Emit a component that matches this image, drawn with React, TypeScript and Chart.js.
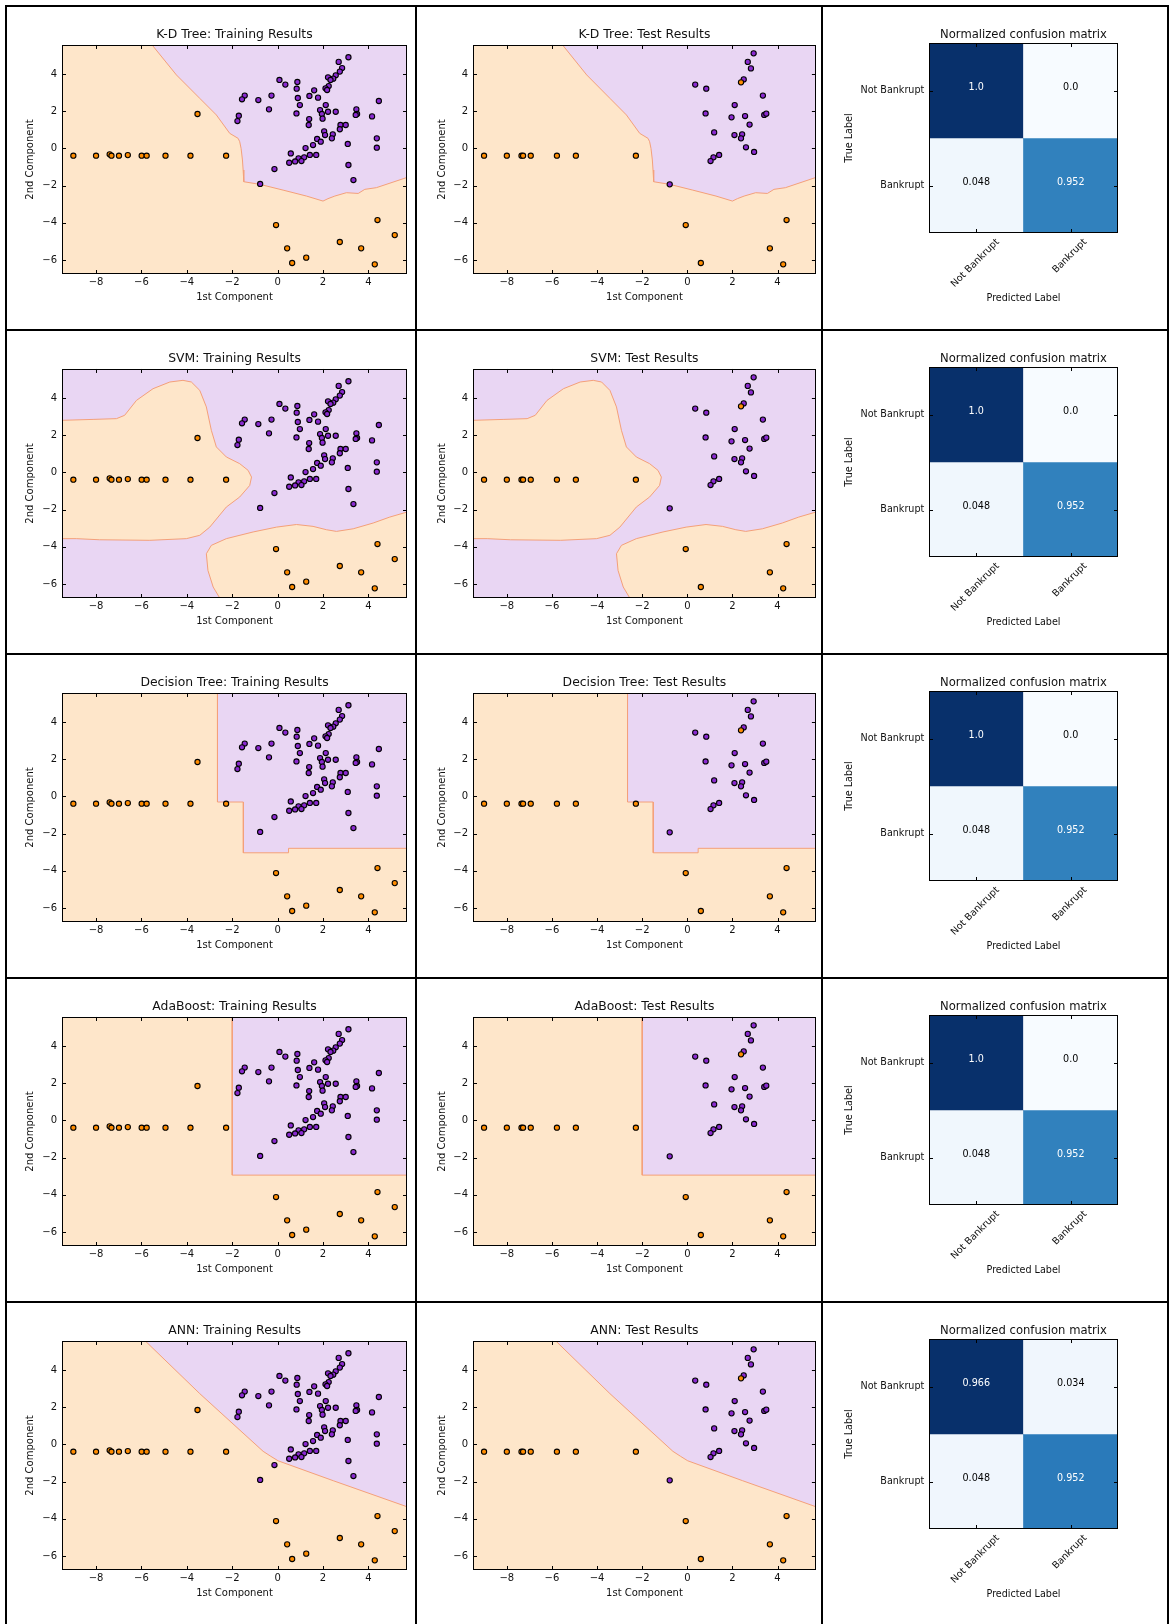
import React, { useEffect, useRef } from "react";
import { Chart, registerables } from "chart.js";

Chart.register(...registerables);

const FONT = "'DejaVu Sans', 'Liberation Sans', Arial, sans-serif";
Chart.defaults.font.family = FONT;
Chart.defaults.color = "#111";

// ---------------- axis ranges & ticks ----------------
const X_MIN = -9.5;
const X_MAX = 5.7;
const Y_MIN = -6.75;
const Y_MAX = 5.56;
const X_TICKS = [-8, -6, -4, -2, 0, 2, 4];
const Y_TICKS = [-6, -4, -2, 0, 2, 4];

type Pt = [number, number];

// ---------------- training points ----------------
const trainBankrupt: Pt[] = [
  [-9.0, -0.39], [-8.0, -0.39], [-7.4, -0.32], [-7.32, -0.39], [-6.99, -0.39],
  [-6.6, -0.36], [-5.99, -0.39], [-5.77, -0.39], [-4.94, -0.39], [-3.84, -0.39],
  [-3.53, 1.85], [-2.27, -0.39], [-0.07, -4.12], [0.42, -5.37], [0.64, -6.16],
  [1.26, -5.87], [2.74, -5.03], [3.68, -5.37], [4.4, -3.85], [4.28, -6.23], [5.16, -4.66],
];

const trainNotBankrupt: Pt[] = [
  [3.12, 4.9], [2.69, 4.65], [2.84, 4.32], [2.74, 4.13], [2.56, 3.93], [2.45, 3.75],
  [2.22, 3.82], [2.33, 3.68], [2.25, 3.35], [2.11, 3.23], [2.18, 3.14], [0.08, 3.68],
  [0.34, 3.43], [0.87, 3.57], [0.84, 3.21], [1.61, 3.12], [1.4, 2.82], [0.89, 2.71],
  [1.78, 2.73], [-0.27, 2.84], [-0.85, 2.6], [-1.45, 2.84], [-1.57, 2.64], [-0.38, 2.1],
  [0.98, 2.33], [2.12, 2.33], [1.87, 2.06], [2.22, 1.97], [2.56, 1.97], [1.95, 1.85],
  [0.83, 1.88], [1.98, 1.6], [1.39, 1.58], [1.37, 1.26], [-1.71, 1.76], [-1.77, 1.47],
  [3.47, 2.1], [3.5, 1.85], [3.44, 1.8], [4.46, 2.55], [4.16, 1.72], [2.77, 1.26],
  [3.0, 1.26], [2.74, 1.03], [2.05, 0.92], [2.43, 0.76], [2.09, 0.72], [1.74, 0.51],
  [1.9, 0.36], [2.39, 0.54], [3.09, 0.24], [1.56, 0.18], [1.23, 0.02], [4.37, 0.54],
  [4.37, 0.04], [0.58, -0.27], [1.42, -0.35], [1.7, -0.35], [1.17, -0.48], [0.92, -0.53],
  [0.77, -0.7], [0.51, -0.77], [1.05, -0.68], [3.12, -0.89], [-0.14, -1.11], [3.34, -1.7],
  [-0.77, -1.91],
];

// ---------------- test points ----------------
const testBankrupt: Pt[] = [
  [-9.01, -0.39], [-8.0, -0.39], [-7.35, -0.39], [-7.28, -0.39], [-6.94, -0.39],
  [-5.78, -0.39], [-4.94, -0.39], [-2.28, -0.39], [-0.07, -4.12], [0.6, -6.16],
  [3.66, -5.37], [4.4, -3.85], [4.25, -6.23], [2.38, 3.55],
];

const testNotBankrupt: Pt[] = [
  [2.94, 5.11], [2.68, 4.65], [2.82, 4.3], [2.5, 3.71], [0.35, 3.43], [0.84, 3.21],
  [3.35, 2.84], [2.1, 2.33], [0.81, 1.88], [1.96, 1.67], [2.56, 1.74], [3.41, 1.8],
  [3.5, 1.87], [2.76, 1.28], [1.19, 0.86], [2.09, 0.72], [2.43, 0.76], [2.38, 0.54],
  [2.6, 0.06], [2.96, -0.19], [1.41, -0.35], [1.16, -0.48], [1.03, -0.68], [-0.78, -1.93],
];

// ---------------- decision boundaries ----------------
const kdBoundary: Pt[] = [
  [-5.53, Y_MAX], [-4.46, 3.95], [-3.43, 2.69], [-2.7, 1.8], [-2.11, 0.81], [-1.74, 0.54],
  [-1.67, 0.36], [-1.61, 0.0], [-1.55, -0.62], [-1.52, -1.16], [-1.49, -1.79], [-0.79, -1.93],
  [0.24, -2.24], [1.27, -2.56], [2.0, -2.83], [2.22, -2.7], [2.52, -2.56], [3.03, -2.38],
  [3.55, -2.42], [3.84, -2.2], [4.35, -2.11], [X_MAX, -1.56],
];

const svmBoundaryLeft: Pt[] = [
  [X_MIN, 2.8], [-8.13, 2.85], [-7.1, 2.89], [-6.74, 3.07], [-6.22, 3.87], [-5.49, 4.5],
  [-4.75, 4.86], [-4.17, 4.95], [-3.8, 4.86], [-3.43, 4.41], [-3.14, 3.52], [-2.92, 2.26],
  [-2.7, 1.37], [-2.26, 0.83], [-1.67, 0.47], [-1.3, 0.11], [-1.15, -0.25], [-1.23, -0.7],
  [-1.67, -1.32], [-2.26, -1.86], [-2.99, -2.94], [-3.43, -3.38], [-4.02, -3.56],
  [-5.63, -3.65], [-7.84, -3.62], [-8.87, -3.56], [X_MIN, -3.56],
];

const svmBoundaryLower: Pt[] = [
  [-2.55, Y_MIN], [-2.84, -6.16], [-3.07, -5.27], [-3.14, -4.37], [-2.92, -3.92],
  [-2.26, -3.56], [-1.08, -3.2], [-0.05, -2.94], [0.83, -2.8], [1.56, -2.9], [2.15, -3.08],
  [2.59, -3.17], [3.33, -3.03], [4.21, -2.72], [4.94, -2.4], [X_MAX, -2.13],
];

const dtBoundary: Pt[] = [
  [-2.65, Y_MAX], [-2.65, -0.3], [-1.51, -0.3], [-1.51, -3.03], [0.48, -3.03], [0.48, -2.79],
  [X_MAX, -2.79],
];

const adaBoundary: Pt[] = [[-2.0, Y_MAX], [-2.0, -2.94], [X_MAX, -2.94]];

const annBoundary: Pt[] = [
  [-5.83, Y_MAX], [-3.43, 2.73], [-0.64, -0.37], [-0.3, -0.64], [0.02, -0.88], [2.45, -1.95],
  [X_MAX, -3.35],
];

// ---------------- confusion matrices ----------------
const CM_CLASSES = ["Not Bankrupt", "Bankrupt"];
const kdCmValues = [[1.0, 0.0], [0.048, 0.952]];
const kdCmCounts = [[29, 0], [1, 20]];
const svmCmValues = [[1.0, 0.0], [0.048, 0.952]];
const svmCmCounts = [[29, 0], [1, 20]];
const dtCmValues = [[1.0, 0.0], [0.048, 0.952]];
const dtCmCounts = [[29, 0], [1, 20]];
const adaCmValues = [[1.0, 0.0], [0.048, 0.952]];
const adaCmCounts = [[29, 0], [1, 20]];
const annCmValues = [[0.966, 0.034], [0.048, 0.952]];
const annCmCounts = [[28, 1], [1, 20]];

// ---------------- styles ----------------
const REGION_FILL: Record<string, string> = { bankrupt: "#fee6ca", notBankrupt: "#e9d6f3" };
const POINT_FILL: Record<string, string> = { bankrupt: "#ff8c00", notBankrupt: "#8a2ad0" };
const EDGE = "#f4a07a";
const BLUES = ["#f7fbff", "#deebf7", "#c6dbef", "#9ecae1", "#6baed6", "#4292c6", "#2171b5", "#08519c", "#08306b"];

type Region = { cls: string; curve: Pt[]; corners: Pt[] };
type Row = { name: string; base: string; regions: Region[]; cmValues: number[][]; cmCounts: number[][] };

const ROWS: Row[] = [
  { name: "K-D Tree", base: "bankrupt", regions: [{ cls: "notBankrupt", curve: kdBoundary, corners: [[X_MAX, Y_MAX]] }], cmValues: kdCmValues, cmCounts: kdCmCounts },
  {
    name: "SVM", base: "notBankrupt",
    regions: [
      { cls: "bankrupt", curve: svmBoundaryLeft, corners: [] },
      { cls: "bankrupt", curve: svmBoundaryLower, corners: [[X_MAX, Y_MIN]] },
    ],
    cmValues: svmCmValues, cmCounts: svmCmCounts,
  },
  { name: "Decision Tree", base: "bankrupt", regions: [{ cls: "notBankrupt", curve: dtBoundary, corners: [[X_MAX, Y_MAX]] }], cmValues: dtCmValues, cmCounts: dtCmCounts },
  { name: "AdaBoost", base: "bankrupt", regions: [{ cls: "notBankrupt", curve: adaBoundary, corners: [[X_MAX, Y_MAX]] }], cmValues: adaCmValues, cmCounts: adaCmCounts },
  { name: "ANN", base: "bankrupt", regions: [{ cls: "notBankrupt", curve: annBoundary, corners: [[X_MAX, Y_MAX]] }], cmValues: annCmValues, cmCounts: annCmCounts },
];

const toXY = (arr: Pt[]) => arr.map(([x, y]) => ({ x, y }));
const fmtTick = (v: number) => (v < 0 ? "\u2212" + Math.abs(v) : String(v));
const fmtCell = (v: number) => (Number.isInteger(v) ? v.toFixed(1) : String(v));

function hexToRgb(h: string) {
  return [1, 3, 5].map((i) => parseInt(h.slice(i, i + 2), 16));
}
function blues(t: number) {
  const p = Math.max(0, Math.min(1, t)) * (BLUES.length - 1);
  const i = Math.min(Math.floor(p), BLUES.length - 2);
  const f = p - i;
  const a = hexToRgb(BLUES[i]);
  const b = hexToRgb(BLUES[i + 1]);
  const c = a.map((v, k) => Math.round(v + (b[k] - v) * f));
  return `rgb(${c[0]},${c[1]},${c[2]})`;
}

// frame + inward ticks (matplotlib classic look)
const framePlugin = {
  id: "mplFrame",
  afterDatasetsDraw(chart: any) {
    const { ctx, chartArea: a, scales } = chart;
    const tl = 4;
    ctx.save();
    ctx.strokeStyle = "#000";
    ctx.lineWidth = 1;
    ctx.beginPath();
    const xs = scales.x;
    xs.ticks.forEach((_: any, i: number) => {
      const px = Math.round(xs.getPixelForTick(i)) + 0.5;
      ctx.moveTo(px, a.bottom);
      ctx.lineTo(px, a.bottom - tl);
      ctx.moveTo(px, a.top);
      ctx.lineTo(px, a.top + tl);
    });
    const ys = scales.y;
    ys.ticks.forEach((_: any, i: number) => {
      const py = Math.round(ys.getPixelForTick(i)) + 0.5;
      ctx.moveTo(a.left, py);
      ctx.lineTo(a.left + tl, py);
      ctx.moveTo(a.right, py);
      ctx.lineTo(a.right - tl, py);
    });
    ctx.stroke();
    ctx.strokeRect(Math.round(a.left) + 0.5, Math.round(a.top) + 0.5, Math.round(a.right - a.left) - 1, Math.round(a.bottom - a.top) - 1);
    ctx.restore();
  },
};

type ScatterProps = {
  title: string;
  bankrupt: Pt[];
  notBankrupt: Pt[];
  row: Row;
  width: number;
  height: number;
  yAxisWidth: number;
  rightPad: number;
  yTitlePad: number;
};

function ScatterPanel(p: ScatterProps) {
  const ref = useRef<HTMLCanvasElement>(null);
  useEffect(() => {
    const datasets: any[] = [];
    datasets.push({
      data: toXY(p.bankrupt), showLine: false, fill: false, pointRadius: 2.6, pointBorderWidth: 1.1,
      pointBackgroundColor: POINT_FILL.bankrupt, pointBorderColor: "#000", order: 0,
    });
    datasets.push({
      data: toXY(p.notBankrupt), showLine: false, fill: false, pointRadius: 2.6, pointBorderWidth: 1.1,
      pointBackgroundColor: POINT_FILL.notBankrupt, pointBorderColor: "#000", order: 1,
    });
    p.row.regions.forEach((r) => {
      datasets.push({
        data: toXY(r.curve), showLine: true, fill: false, borderColor: EDGE, borderWidth: 1,
        pointRadius: 0, tension: 0, order: 5,
      });
      datasets.push({
        data: toXY([...r.curve, ...r.corners]), showLine: true, fill: "shape", borderWidth: 0,
        borderColor: "rgba(0,0,0,0)", backgroundColor: REGION_FILL[r.cls], pointRadius: 0, tension: 0, order: 8,
      });
    });
    const rect: Pt[] = [[X_MIN, Y_MIN], [X_MAX, Y_MIN], [X_MAX, Y_MAX], [X_MIN, Y_MAX]];
    datasets.push({
      data: toXY(rect), showLine: true, fill: "shape", borderWidth: 0, borderColor: "rgba(0,0,0,0)",
      backgroundColor: REGION_FILL[p.row.base], pointRadius: 0, tension: 0, order: 10,
    });

    const axisFont = { family: FONT, size: 10 };
    const chart = new Chart(ref.current as HTMLCanvasElement, {
      type: "line",
      data: { datasets },
      options: {
        animation: false,
        responsive: false,
        devicePixelRatio: 1,
        events: [],
        layout: { padding: { left: 0, right: p.rightPad, top: 0, bottom: 0 } },
        plugins: {
          legend: { display: false },
          tooltip: { enabled: false },
          title: {
            display: true, text: p.title, fullSize: false, color: "#111",
            font: { family: FONT, size: 12.4, weight: "normal" as any },
            padding: { top: 20.8, bottom: 2.3 },
          },
        },
        scales: {
          x: {
            type: "linear", min: X_MIN, max: X_MAX,
            afterBuildTicks: (s: any) => { s.ticks = X_TICKS.map((v) => ({ value: v })); },
            afterFit: (s: any) => { s.height = 55; },
            grid: { display: false, drawTicks: false },
            border: { display: false },
            ticks: { font: axisFont, color: "#111", padding: 2.3, autoSkip: false, maxRotation: 0, callback: (v: any) => fmtTick(Number(v)) },
            title: { display: true, text: "1st Component", font: axisFont, color: "#111", padding: { top: 0, bottom: 25.3 } },
          },
          y: {
            type: "linear", min: Y_MIN, max: Y_MAX,
            afterBuildTicks: (s: any) => { s.ticks = Y_TICKS.map((v) => ({ value: v })); },
            afterFit: (s: any) => { s.width = p.yAxisWidth; },
            grid: { display: false, drawTicks: false },
            border: { display: false },
            ticks: { font: axisFont, color: "#111", padding: 5, autoSkip: false, callback: (v: any) => fmtTick(Number(v)) },
            title: { display: true, text: "2nd Component", font: axisFont, color: "#111", padding: { top: p.yTitlePad, bottom: 0 } },
          },
        },
      } as any,
      plugins: [framePlugin],
    });
    return () => chart.destroy();
  }, []);
  return <canvas ref={ref} width={p.width} height={p.height} style={{ display: "block", width: p.width, height: p.height }} />;
}

function ConfusionPanel({ values, counts, width, height }: { values: number[][]; counts: number[][]; width: number; height: number }) {
  const ref = useRef<HTMLCanvasElement>(null);
  useEffect(() => {
    const n = CM_CLASSES.length;
    const maxCount = Math.max(...counts.flat());
    const labelFont = { family: FONT, size: 9.6 };
    const cellPlugin = {
      id: "cmCells",
      afterDatasetsDraw(chart: any) {
        const { ctx } = chart;
        ctx.save();
        ctx.font = `9.6px ${FONT}`;
        ctx.textAlign = "center";
        ctx.textBaseline = "middle";
        chart.data.datasets.forEach((_: any, r: number) => {
          const meta = chart.getDatasetMeta(r);
          meta.data.forEach((bar: any, c: number) => {
            const { x, y, base } = bar.getProps(["x", "y", "base"], true);
            ctx.fillStyle = counts[r][c] > maxCount / 2 ? "#ffffff" : "#000000";
            ctx.fillText(fmtCell(values[r][c]), x, (y + base) / 2 - 3);
          });
        });
        ctx.restore();
      },
      afterDraw(chart: any) {
        const { ctx, chartArea: a, scales } = chart;
        ctx.save();
        ctx.font = `9.6px ${FONT}`;
        ctx.fillStyle = "#111";
        ctx.textAlign = "right";
        ctx.textBaseline = "middle";
        CM_CLASSES.forEach((lab, i) => {
          const tx = scales.x.getPixelForTick(i);
          const w = ctx.measureText(lab).width;
          ctx.save();
          ctx.translate(tx + w * 0.3536 - 1, a.bottom + 7.5);
          ctx.rotate(-Math.PI / 4);
          ctx.fillText(lab, 0, 0);
          ctx.restore();
        });
        ctx.restore();
      },
    };
    const chart = new Chart(ref.current as HTMLCanvasElement, {
      type: "bar",
      data: {
        labels: CM_CLASSES,
        datasets: CM_CLASSES.map((rowLabel, r) => ({
          label: rowLabel,
          data: CM_CLASSES.map(() => [n - 1 - r, n - r]),
          backgroundColor: counts[r].map((v) => blues(v / maxCount)),
          borderWidth: 0,
          grouped: false,
          categoryPercentage: 1,
          barPercentage: 1,
        })),
      },
      options: {
        animation: false,
        responsive: false,
        devicePixelRatio: 1,
        events: [],
        layout: { padding: { left: 0, right: 49, top: 0, bottom: 0 } },
        plugins: {
          legend: { display: false },
          tooltip: { enabled: false },
          title: {
            display: true, text: "Normalized confusion matrix", fullSize: false, color: "#111",
            font: { family: FONT, size: 11.6, weight: "normal" as any },
            padding: { top: 21, bottom: 1.1 },
          },
        },
        scales: {
          x: {
            type: "category", offset: true,
            afterFit: (s: any) => { s.height = 96; },
            grid: { display: false, drawTicks: false },
            border: { display: false },
            ticks: { display: false },
            title: { display: true, text: "Predicted Label", font: labelFont, color: "#111", padding: { top: 0, bottom: 24.9 } },
          },
          y: {
            type: "linear", min: 0, max: n,
            afterBuildTicks: (s: any) => { s.ticks = CM_CLASSES.map((_, i) => ({ value: i + 0.5 })); },
            afterFit: (s: any) => { s.width = 106; },
            grid: { display: false, drawTicks: false },
            border: { display: false },
            ticks: { font: labelFont, color: "#111", padding: 4.7, autoSkip: false, callback: (v: any) => CM_CLASSES[n - 1 - Math.floor(Number(v))] },
            title: { display: true, text: "True Label", font: labelFont, color: "#111", padding: { top: 21.2, bottom: 0 } },
          },
        },
      } as any,
      plugins: [framePlugin, cellPlugin],
    });
    return () => chart.destroy();
  }, []);
  return <canvas ref={ref} width={width} height={height} style={{ display: "block", width, height }} />;
}

export default function App() {
  const cellStyle: React.CSSProperties = { background: "#fff", overflow: "hidden" };
  return (
    <div
      style={{
        position: "absolute", left: 5, top: 5, width: 1164, height: 1619, overflow: "hidden",
        background: "#000", display: "grid", gridTemplateColumns: "408px 404px 344px",
        gridTemplateRows: "repeat(5, 322px)", gap: 2, padding: 2, boxSizing: "border-box",
      }}
    >
      {ROWS.map((row) => (
        <React.Fragment key={row.name}>
          <div style={cellStyle}>
            <ScatterPanel title={`${row.name}: Training Results`} bankrupt={trainBankrupt} notBankrupt={trainNotBankrupt}
              row={row} width={408} height={322} yAxisWidth={55} rightPad={8} yTitlePad={17.7} />
          </div>
          <div style={cellStyle}>
            <ScatterPanel title={`${row.name}: Test Results`} bankrupt={testBankrupt} notBankrupt={testNotBankrupt}
              row={row} width={404} height={322} yAxisWidth={56} rightPad={4} yTitlePad={19} />
          </div>
          <div style={cellStyle}>
            <ConfusionPanel values={row.cmValues} counts={row.cmCounts} width={344} height={322} />
          </div>
        </React.Fragment>
      ))}
    </div>
  );
}
